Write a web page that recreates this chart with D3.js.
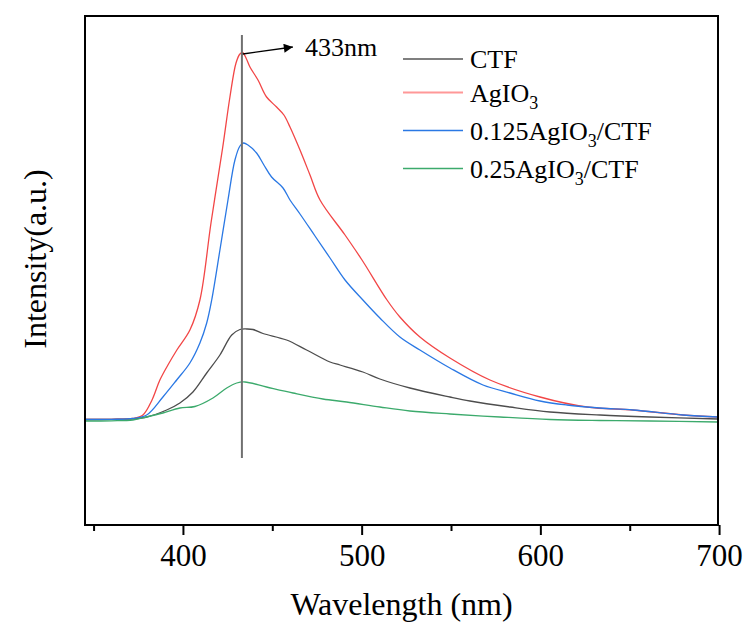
<!DOCTYPE html>
<html>
<head>
<meta charset="utf-8">
<script src="https://cdn.jsdelivr.net/npm/d3@7/dist/d3.min.js"></script>
<style>
  html, body { margin: 0; padding: 0; background: #fff; }
  svg text { font-family: "Liberation Serif", "Times New Roman", serif; fill: #000; }
</style>
</head>
<body>
<svg id="chart" width="743" height="626"></svg>
<script>
// Photoluminescence spectra: wavelength (nm) vs intensity (a.u.)
const wavelengthCTF = [345.2, 360, 372, 379.7, 390.9, 398.3, 405.6, 413.3, 420.7, 427.3, 431.9, 435.8, 439.2, 444.8, 458, 469.2, 482.3, 487.9, 500.7, 510.2, 527, 549.4, 560.6, 583, 605.4, 633.4, 661.3, 699.4];
const intensityCTF  = [105.5, 105.7, 106.2, 108, 115, 122, 133, 152, 170, 190, 195.5, 196, 195.5, 191.5, 185, 175, 163, 160, 153, 146, 137, 128, 124, 118, 113, 110, 108, 106];

const wavelengthAgIO3 = [345.2, 360, 372, 377.6, 382.7, 387.1, 391.6, 396.6, 403.9, 409.5, 415.7, 422.2, 426.3, 429.7, 431.9, 433.4, 435.3, 437.5, 442, 446.8, 452.4, 456.5, 459.9, 465.5, 471.1, 476.7, 490.7, 500.2, 514.2, 521.4, 532.6, 549.4, 571.8, 599.8, 626.1, 651.8, 679.8, 699.4];
const intensityAgIO3  = [105.5, 105.7, 106.5, 110, 125, 145, 160, 175, 195, 225, 302, 377, 428, 462, 471, 472.5, 467, 458, 445, 428, 418, 410, 398, 375, 350, 325, 290, 265, 225, 208, 188, 167, 145, 128, 118, 115, 110, 108];

const wavelength0125 = [345.2, 360, 372, 379.7, 388.8, 396.5, 403.9, 409.5, 413.3, 416.1, 420.7, 425.2, 429.1, 431.9, 433.9, 436.4, 441.2, 445.3, 449.6, 456, 459.9, 465.5, 473.9, 482.3, 490.7, 500.7, 510.2, 521.4, 532.6, 549.4, 567.9, 583, 599.8, 614.9, 633.4, 651.8, 679.8, 699.4];
const intensity0125  = [105.5, 105.7, 106.5, 110, 128, 145, 162, 182, 202, 225, 275, 325, 365, 379, 382, 380, 372, 360, 348, 337, 325, 311, 289, 267, 245, 225, 207, 188, 175, 157, 140, 132, 124, 120, 117, 115, 110, 108];

const wavelength025 = [345.2, 360, 372, 379.7, 388.8, 398.3, 406.7, 416.8, 424.5, 430.1, 434.7, 446.8, 461.6, 478.3, 491.6, 510.2, 527, 549.4, 577.4, 605.4, 633.4, 661.3, 699.4];
const intensity025  = [104, 104.2, 105, 108, 112, 117, 118.5, 127, 137, 142, 143, 138, 132, 126, 123, 118, 114, 111, 108, 105.5, 104.5, 104, 103];

const seriesNames  = ["CTF", "AgIO_3", "0.125AgIO_3/CTF", "0.25AgIO_3/CTF"];
const lineColors   = ["#4d4d4d", "#f24646", "#2a78e4", "#3caa6c"];
const legendColors = ["#555555", "#ff9898", "#2a78e4", "#3caa6c"];

const majorTicks = [400, 500, 600, 700];
const minorTicks = [350, 450, 550, 650];

const peakWavelength = 433;
const peakLabel = "433nm";

const series = [
  { x: wavelengthCTF,   y: intensityCTF },
  { x: wavelengthAgIO3, y: intensityAgIO3 },
  { x: wavelength0125,  y: intensity0125 },
  { x: wavelength025,   y: intensity025 }
];

const svg = d3.select("#chart");
const plot = { left: 85, right: 718, top: 16, bottom: 525 };

const x = d3.scaleLinear().domain([345.2, 699.4]).range([plot.left, plot.right]);
const y = d3.scaleLinear().domain([0, 509]).range([plot.bottom, plot.top]);

// curves
const line = d3.line()
  .x(d => x(d[0]))
  .y(d => y(d[1]))
  .curve(d3.curveCatmullRom.alpha(0.5));

series.forEach((s, i) => {
  svg.append("path")
    .datum(d3.zip(s.x, s.y))
    .attr("fill", "none")
    .attr("stroke", lineColors[i])
    .attr("stroke-width", 1.3)
    .attr("d", line);
});

// peak marker
svg.append("line")
  .attr("x1", x(peakWavelength)).attr("x2", x(peakWavelength))
  .attr("y1", y(490)).attr("y2", y(67))
  .attr("stroke", "#707070")
  .attr("stroke-width", 2);

svg.append("defs").append("marker")
  .attr("id", "arrowHead")
  .attr("viewBox", "0 0 10 10")
  .attr("refX", 10).attr("refY", 5)
  .attr("markerWidth", 14).attr("markerHeight", 9)
  .attr("markerUnits", "userSpaceOnUse")
  .attr("orient", "auto")
  .append("path")
  .attr("d", "M0,0 L10,5 L0,10 Z")
  .attr("fill", "#000");

svg.append("line")
  .attr("x1", x(433.5)).attr("y1", y(471))
  .attr("x2", x(461.5)).attr("y2", y(478))
  .attr("stroke", "#000")
  .attr("stroke-width", 1.3)
  .attr("marker-end", "url(#arrowHead)");

svg.append("text")
  .attr("x", 305).attr("y", 56)
  .attr("font-size", 26)
  .text(peakLabel);

// frame
svg.append("rect")
  .attr("x", plot.left).attr("y", plot.top)
  .attr("width", plot.right - plot.left).attr("height", plot.bottom - plot.top)
  .attr("fill", "none")
  .attr("stroke", "#000")
  .attr("stroke-width", 2);

// x axis
const xAxis = svg.append("g")
  .attr("transform", `translate(0,${plot.bottom})`)
  .call(d3.axisBottom(x).tickValues(majorTicks).tickSize(10).tickSizeOuter(0).tickPadding(9).tickFormat(d3.format("d")));
xAxis.select(".domain").remove();
xAxis.selectAll(".tick line").attr("stroke", "#000").attr("stroke-width", 2);
xAxis.selectAll(".tick text")
  .attr("font-family", "Liberation Serif, Times New Roman, serif")
  .attr("font-size", 31)
  .attr("fill", "#000");

const xMinor = svg.append("g")
  .attr("transform", `translate(0,${plot.bottom})`)
  .call(d3.axisBottom(x).tickValues(minorTicks).tickSize(6).tickSizeOuter(0).tickFormat(""));
xMinor.select(".domain").remove();
xMinor.selectAll(".tick line").attr("stroke", "#000").attr("stroke-width", 2);

// axis titles
svg.append("text")
  .attr("x", (plot.left + plot.right) / 2).attr("y", 615)
  .attr("text-anchor", "middle")
  .attr("font-size", 32)
  .text("Wavelength (nm)");

svg.append("text")
  .attr("transform", "translate(46,259) rotate(-90)")
  .attr("text-anchor", "middle")
  .attr("font-size", 32)
  .text("Intensity(a.u.)");

// legend
const legendRows = [59, 92.5, 130.5, 168.5];
seriesNames.forEach((name, i) => {
  const ly = legendRows[i];
  svg.append("line")
    .attr("x1", 403).attr("x2", 463)
    .attr("y1", ly).attr("y2", ly)
    .attr("stroke", legendColors[i])
    .attr("stroke-width", i === 1 ? 2.2 : 1.5);
  const t = svg.append("text")
    .attr("x", 470).attr("y", ly + 9)
    .attr("font-size", 26);
  let shift = 0;
  name.split(/(_\d)/).filter(p => p.length).forEach(part => {
    if (part.startsWith("_")) {
      t.append("tspan").attr("font-size", 18).attr("dy", 7).text(part.slice(1));
      shift = -7;
    } else {
      t.append("tspan").attr("dy", shift).text(part);
      shift = 0;
    }
  });
});
</script>
</body>
</html>
